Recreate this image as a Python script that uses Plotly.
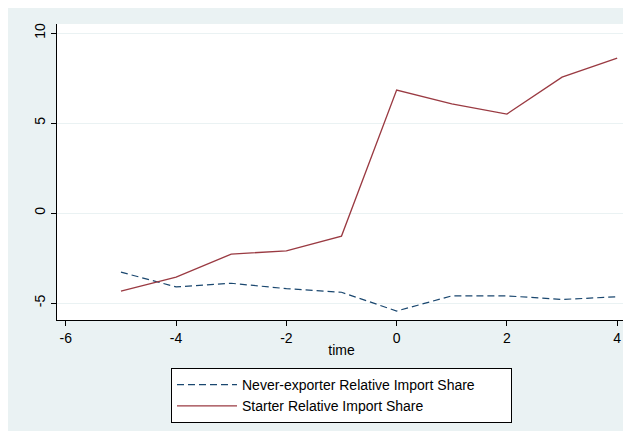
import plotly.graph_objects as go

time = [-5, -4, -3, -2, -1, 0, 1, 2, 3, 4]
never_exporter = [-3.28, -4.1, -3.9, -4.2, -4.4, -5.44, -4.6, -4.6, -4.8, -4.65]
starter = [-4.33, -3.56, -2.28, -2.1, -1.28, 6.83, 6.06, 5.5, 7.55, 8.6]
x_ticks = [-6, -4, -2, 0, 2, 4]
x_labels = ["-6", "-4", "-2", "0", "2", "4"]
y_ticks = [-5, 0, 5, 10]
y_labels = ["-5", "0", "5", "10"]
series_names = ["Never-exporter Relative Import Share", "Starter Relative Import Share"]

W, H = 623, 423
L, R, T, B = 49, 5, 16, 111
pw, ph = W - L - R, H - T - B

def px_y(p):
    return (H - B - p) / ph

pad = "\u00a0" * 8

fig = go.Figure()
fig.add_trace(go.Scatter(x=time, y=never_exporter, mode="lines",
                         name=series_names[0] + pad,
                         line=dict(color="#1A476F", width=1.2, dash="7px,4px")))
fig.add_trace(go.Scatter(x=time, y=starter, mode="lines",
                         name=series_names[1],
                         line=dict(color="#9A3A42", width=1.3)))

fig.update_layout(
    width=W, height=H,
    margin=dict(l=L, r=R, t=T, b=B),
    paper_bgcolor="#EAF2F3",
    plot_bgcolor="white",
    font=dict(family="Liberation Sans, Arial, sans-serif", size=14, color="#000000"),
    xaxis=dict(range=[-6.16, 4.16], tickvals=x_ticks, ticktext=x_labels,
               ticks="outside", ticklen=5,
               tickcolor="#000", showline=True, linecolor="#000", linewidth=1,
               showgrid=False, zeroline=False,
               title=dict(text="time", standoff=0, font=dict(size=14))),
    yaxis=dict(range=[-5.94, 10.5], tickvals=y_ticks, ticktext=y_labels,
               ticks="outside", ticklen=5,
               tickcolor="#000", showline=True, linecolor="#000", linewidth=1,
               showgrid=True, gridcolor="#EAF2F3", gridwidth=1, zeroline=False,
               tickangle=-90),
    legend=dict(x=0.5, xanchor="center", y=px_y(360), yanchor="top",
                bgcolor="white", bordercolor="#000", borderwidth=1,
                font=dict(size=14), tracegroupgap=0, itemwidth=60),
    showlegend=True,
)

fig.write_html("out.html")
